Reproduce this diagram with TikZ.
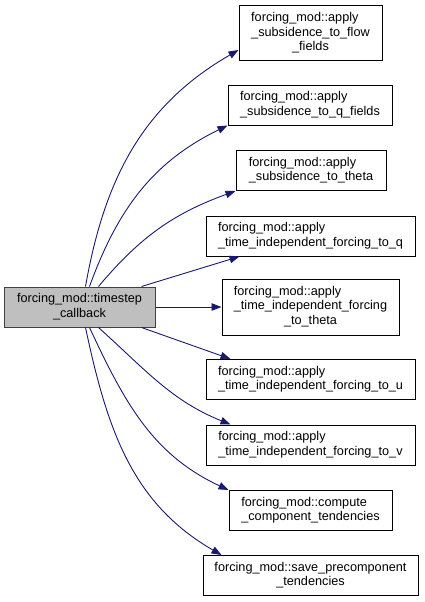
\documentclass[tikz,border=0pt]{standalone}
\usepackage{fontspec}
\setmainfont{Liberation Sans}
\usepackage{tikz}
\usetikzlibrary{arrows.meta,positioning}
\definecolor{callblue}{RGB}{25,25,112}
\definecolor{boxgray}{RGB}{191,191,191}
\definecolor{boxline}{RGB}{64,64,64}
\newcommand{\fnname}[1]{\begin{tabular}{@{}l@{}}#1\end{tabular}}
\newcommand{\lastln}[1]{\multicolumn{1}{@{}c@{}}{#1}}

\begin{document}
\begin{tikzpicture}[x=1pt,y=-1pt,
    font=\fontsize{12.7}{14.5}\selectfont,
    fnbox/.style={draw=black,line width=1pt,fill=white,inner sep=0pt,minimum height=40pt},
    fncurrent/.style={fnbox,draw=boxline,fill=boxgray},
    call/.style={callblue,line width=0.9pt,-{Triangle[length=10pt,width=7.5pt]}}]
    \useasboundingbox (0,0) rectangle (424,602);
    \node[fncurrent,minimum width=151pt] (src) at (79.5,307) {\fnname{forcing\_mod::timestep\\\lastln{\_callback}}};
    \node[fnbox,minimum width=143pt,minimum height=55pt] (flow) at (310.5,33.5) {\fnname{forcing\_mod::apply\\\_subsidence\_to\_flow\\\lastln{\_fields}}};
    \node[fnbox,minimum width=164pt] (qfields) at (310,105) {\fnname{forcing\_mod::apply\\\_subsidence\_to\_q\_fields}};
    \node[fnbox,minimum width=150pt] (subtheta) at (311,170.5) {\fnname{forcing\_mod::apply\\\_subsidence\_to\_theta}};
    \node[fnbox,minimum width=209pt] (tiq) at (310.5,236) {\fnname{forcing\_mod::apply\\\_time\_independent\_forcing\_to\_q}};
    \node[fnbox,minimum width=177pt,minimum height=56pt] (titheta) at (310.5,307) {\fnname{forcing\_mod::apply\\\_time\_independent\_forcing\\\lastln{\_to\_theta}}};
    \node[fnbox,minimum width=209pt] (tiu) at (310.5,379.5) {\fnname{forcing\_mod::apply\\\_time\_independent\_forcing\_to\_u}};
    \node[fnbox,minimum width=209pt] (tiv) at (310.5,445) {\fnname{forcing\_mod::apply\\\_time\_independent\_forcing\_to\_v}};
    \node[fnbox,minimum width=163pt] (comp) at (310.5,510.5) {\fnname{forcing\_mod::compute\\\_component\_tendencies}};
    \node[fnbox,minimum width=215pt] (precomp) at (310.5,575.5) {\fnname{forcing\_mod::save\_precomponent\\\lastln{\_tendencies}}};
    % calls
    \draw[call] ([xshift=82pt]src.north west) to[out=80,in=210] ([yshift=-16.5pt]flow.west);
    \draw[call] ([xshift=86pt]src.north west) to[out=70,in=206] (qfields.south west);
    \draw[call] ([xshift=95pt]src.north west) to[out=50,in=200] (subtheta.south west);
    \draw[call] ([xshift=138pt]src.north west) -- ([xshift=34pt]tiq.south west);
    \draw[call] (src.east) -- (titheta.west);
    \draw[call] ([xshift=138pt]src.south west) -- ([xshift=25pt]tiu.north west);
    \draw[call] ([xshift=95pt]src.south west) to[out=-42,in=158] ([xshift=25pt]tiv.north west);
    \draw[call] ([xshift=86pt]src.south west) to[out=-65,in=155] (comp.north west);
    \draw[call] ([xshift=82pt]src.south west) to[out=-78,in=150] ([xshift=19pt]precomp.north west);
\end{tikzpicture}
\end{document}
